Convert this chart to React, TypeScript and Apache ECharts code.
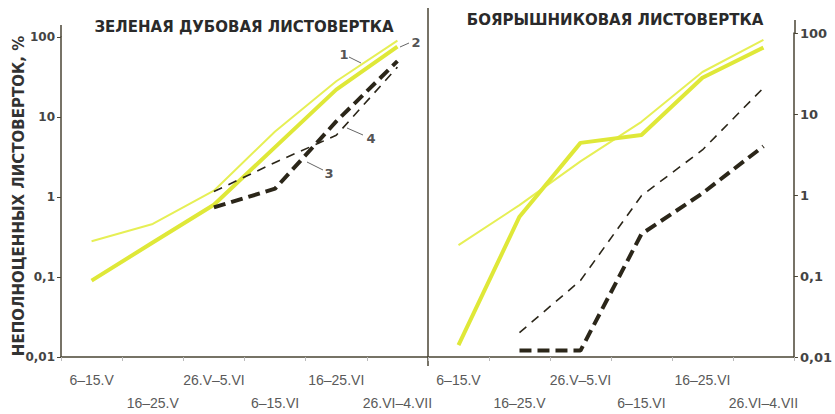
import React, { useEffect, useRef } from 'react';
import * as echarts from 'echarts';

// Categories (10-day periods)
const categories = ['6–15.V', '16–25.V', '26.V–5.VI', '6–15.VI', '16–25.VI', '26.VI–4.VII'];

// Log-axis tick labels (powers of ten from 0.01 to 100)
const yTickLabels = ['0,01', '0,1', '1', '10', '100'];

// Panel titles and axis title
const panelTitles = ['ЗЕЛЕНАЯ ДУБОВАЯ ЛИСТОВЕРТКА', 'БОЯРЫШНИКОВАЯ ЛИСТОВЕРТКА'];
const yAxisTitle = 'НЕПОЛНОЦЕННЫХ ЛИСТОВЕРТОК, %';
const curveNames = ['1', '2', '3', '4'];

// Left panel: green oak leaf roller (percent)
const oakCurve1 = [0.28, 0.46, 1.2, 6.6, 28, 90];
const oakCurve2 = [0.09, 0.27, 0.8, 4.2, 22, 76];
const oakCurve3 = [null, null, 0.74, 1.27, 8.8, 50];
const oakCurve4 = [null, null, 1.17, 2.7, 5.9, 42];

// Right panel: hawthorn leaf roller (percent)
const hawCurve1 = [0.24, 0.75, 2.6, 8, 33, 82];
const hawCurve2 = [0.014, 0.54, 4.4, 5.5, 28, 66];
const hawCurve3 = [null, 0.012, 0.012, 0.33, 1.05, 4.0];
const hawCurve4 = [null, 0.02, 0.088, 0.98, 3.6, 21];

const YELLOW_THIN = '#e6ef55';
const YELLOW_THICK = '#dfe838';
const DARK = '#2b2619';
const AXIS = '#4a4535';

function tickLabel(v: number) {
  const e = Math.round(Math.log10(v));
  return yTickLabels[e + 2] ?? '';
}

function lineSeries(data: (number | null)[], idx: number, kind: number) {
  const styles = [
    { color: YELLOW_THIN, width: 2, type: 'solid' as any, z: 2 },
    { color: YELLOW_THICK, width: 4, type: 'solid' as any, z: 2 },
    { color: DARK, width: 4, type: [12, 6] as any, z: 4 },
    { color: DARK, width: 1.6, type: [9, 7] as any, z: 3 },
  ][kind];
  return {
    type: 'line',
    xAxisIndex: idx,
    yAxisIndex: idx,
    data,
    symbol: 'none',
    connectNulls: false,
    z: styles.z,
    lineStyle: { color: styles.color, width: styles.width, type: styles.type, cap: 'butt' },
  };
}

export default function App() {
  const ref = useRef<HTMLDivElement>(null);
  useEffect(() => {
    if (!ref.current) return;
    const chart = echarts.init(ref.current, null, { renderer: 'svg' });
    const xAxisBase = (gridIndex: number) => ({
      type: 'category',
      gridIndex,
      data: categories,
      boundaryGap: true,
      axisLine: { lineStyle: { color: AXIS, width: 1.5 } },
      axisTick: { show: true, length: 4, lineStyle: { color: '#bbb' } },
      axisLabel: {
        interval: 0,
        margin: 11,
        fontSize: 14,
        lineHeight: 23,
        color: '#5a5a5a',
        fontFamily: 'Liberation Sans',
        formatter: (v: string, i: number) => (i % 2 === 1 ? '\n' + v : v),
      },
      splitLine: { show: false },
    });
    const yAxisBase = (gridIndex: number, position: string, fontSize: number) => ({
      type: 'log',
      logBase: 10,
      gridIndex,
      position,
      min: 0.01,
      max: 100,
      splitNumber: 4,
      axisLine: { show: true, lineStyle: { color: AXIS, width: 1.5 } },
      axisTick: { show: true, length: 4, lineStyle: { color: AXIS } },
      axisLabel: {
        margin: 6,
        fontSize,
        fontWeight: 'bold',
        color: '#444',
        fontFamily: 'DejaVu Sans',
        formatter: (v: number) => tickLabel(v),
      },
      splitLine: { show: false },
      minorTick: { show: false },
    });
    const annText = (text: string, x: number, y: number) => ({
      type: 'text',
      x,
      y,
      style: { text, fontSize: 13, fontWeight: 'bold', fill: '#555', fontFamily: 'DejaVu Sans', align: 'center', verticalAlign: 'middle' },
    });
    const annLine = (x1: number, y1: number, x2: number, y2: number) => ({
      type: 'line',
      shape: { x1, y1, x2, y2 },
      style: { stroke: '#666', lineWidth: 1 },
    });
    chart.setOption({
      animation: false,
      backgroundColor: '#ffffff',
      grid: [
        { left: 61, top: 37, width: 367, height: 329 },
        { left: 428, top: 33, width: 367, height: 330 },
      ],
      xAxis: [xAxisBase(0), xAxisBase(1)],
      yAxis: [yAxisBase(0, 'left', 12), yAxisBase(1, 'right', 13)],
      series: [
        lineSeries(oakCurve1, 0, 0),
        lineSeries(oakCurve2, 0, 1),
        lineSeries(oakCurve4, 0, 3),
        lineSeries(oakCurve3, 0, 2),
        lineSeries(hawCurve1, 1, 0),
        lineSeries(hawCurve2, 1, 1),
        lineSeries(hawCurve4, 1, 3),
        lineSeries(hawCurve3, 1, 2),
      ],
      graphic: [
        {
          type: 'text', x: 244, y: 27,
          style: { text: panelTitles[0], fontSize: 15, fontWeight: 'bold', fill: '#2a2a2a', fontFamily: 'DejaVu Sans', align: 'center', verticalAlign: 'middle' },
        },
        {
          type: 'text', x: 615, y: 20,
          style: { text: panelTitles[1], fontSize: 15, fontWeight: 'bold', fill: '#2a2a2a', fontFamily: 'DejaVu Sans', align: 'center', verticalAlign: 'middle' },
        },
        {
          type: 'text', x: 19, y: 196, rotation: Math.PI / 2,
          style: { text: yAxisTitle, fontSize: 15, fontWeight: 'bold', fill: '#333', fontFamily: 'DejaVu Sans', align: 'center', verticalAlign: 'middle' },
        },
        // divider and axis extensions
        { type: 'line', shape: { x1: 428, y1: 8, x2: 428, y2: 366 }, style: { stroke: AXIS, lineWidth: 1.5 } },
        { type: 'line', shape: { x1: 61, y1: 25, x2: 61, y2: 37 }, style: { stroke: AXIS, lineWidth: 1.5 } },
        { type: 'line', shape: { x1: 795, y1: 20, x2: 795, y2: 33 }, style: { stroke: AXIS, lineWidth: 1.5 } },
        // curve annotations
        annText(curveNames[0], 344, 54),
        annLine(349, 57, 361, 63),
        annText(curveNames[1], 416, 42),
        annLine(400, 47, 409, 43),
        annText(curveNames[2], 329, 173),
        annLine(307, 162, 323, 170),
        annText(curveNames[3], 371, 138),
        annLine(347, 128, 363, 135),
      ],
    } as any);
    return () => chart.dispose();
  }, []);
  return <div ref={ref} style={{ position: 'fixed', left: 0, top: 0, width: 835, height: 414 }} />;
}
